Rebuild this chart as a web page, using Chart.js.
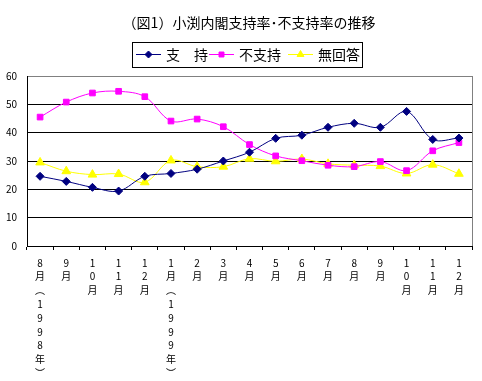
<!DOCTYPE html>
<html><head><meta charset="utf-8">
<script src="https://cdn.jsdelivr.net/npm/chart.js@4/dist/chart.umd.min.js"></script>
<style>html,body{margin:0;padding:0;background:#fff;}canvas{display:block;}</style>
</head><body>
<canvas id="c" width="482" height="381"></canvas>
<script>
const titleText = '（図1）小渕内閣支持率･不支持率の推移';
const categories = [
  ['8','月','︵','1','9','9','8','年','︶'],
  ['9','月'],
  ['1','0','月'],
  ['1','1','月'],
  ['1','2','月'],
  ['1','月','︵','1','9','9','9','年','︶'],
  ['2','月'],['3','月'],['4','月'],['5','月'],['6','月'],['7','月'],['8','月'],['9','月'],
  ['1','0','月'],['1','1','月'],['1','2','月']
];
const seriesNames = ['支　持', '不支持', '無回答'];
const support    = [24.6, 22.8, 20.7, 19.4, 24.6, 25.6, 27.1, 30.0, 33.1, 38.0, 39.1, 41.9, 43.3, 41.9, 47.5, 37.6, 38.1];
const nonSupport = [45.5, 50.8, 54.0, 54.6, 52.7, 44.1, 44.8, 42.1, 35.8, 31.8, 30.1, 28.5, 28.0, 29.8, 26.6, 33.6, 36.5];
const noAnswer   = [29.5, 26.4, 25.2, 25.4, 22.5, 30.2, 28.0, 28.0, 30.8, 29.9, 30.7, 29.0, 28.5, 28.2, 25.6, 28.7, 25.5];
const yTicks = [0, 10, 20, 30, 40, 50, 60];

const FONT = '"Noto Sans CJK JP", "Noto Sans", sans-serif';
const colors = ['#000080', '#FF00FF', '#FFFF00'];
const pstyles = ['rectRot', 'rect', 'triangle'];
const pradius = [4, 4, 5];

const decor = {
  id: 'decor',
  beforeDatasetsDraw(chart) {
    const ctx = chart.ctx, a = chart.chartArea;
    ctx.save();
    ctx.strokeStyle = '#808080'; ctx.lineWidth = 1;
    ctx.beginPath();
    ctx.moveTo(Math.round(a.right) + 0.5, a.top);
    ctx.lineTo(Math.round(a.right) + 0.5, a.bottom);
    ctx.stroke();
    ctx.restore();
  },
  afterDraw(chart) {
    const ctx = chart.ctx;
    ctx.save();
    ctx.fillStyle = '#000';
    ctx.font = '14px ' + FONT;
    ctx.textAlign = 'center'; ctx.textBaseline = 'middle';
    ctx.fillText(titleText, 249, 23);
    ctx.strokeStyle = '#000'; ctx.lineWidth = 1;
    ctx.strokeRect(132.5, 42.5, 230, 25);
    const lx = [136, 209, 288];
    const ly = 54;
    ctx.textAlign = 'left';
    for (let i = 0; i < 3; i++) {
      ctx.strokeStyle = colors[i]; ctx.fillStyle = colors[i]; ctx.lineWidth = 1;
      ctx.beginPath(); ctx.moveTo(lx[i], ly + 0.5); ctx.lineTo(lx[i] + 25, ly + 0.5); ctx.stroke();
      Chart.helpers.drawPoint(ctx, {pointStyle: pstyles[i], radius: i === 2 ? 4 : 3.5, borderWidth: 1}, lx[i] + 12.5, ly + 0.5);
      ctx.fillStyle = '#000';
      ctx.font = '14px ' + FONT;
      ctx.fillText(seriesNames[i], lx[i] + 30, ly + 1);
    }
    ctx.restore();
  }
};

function mk(label, data, i) {
  return {
    label, data,
    borderColor: colors[i], backgroundColor: colors[i],
    pointBackgroundColor: colors[i], pointBorderColor: colors[i],
    pointStyle: pstyles[i], pointRadius: pradius[i], pointBorderWidth: 1,
    borderWidth: 1, tension: 0.35, fill: false
  };
}

new Chart(document.getElementById('c'), {
  type: 'line',
  data: {
    labels: categories,
    datasets: [mk(seriesNames[0], support, 0), mk(seriesNames[1], nonSupport, 1), mk(seriesNames[2], noAnswer, 2)]
  },
  options: {
    responsive: false, animation: false, devicePixelRatio: 1,
    layout: { padding: { top: 76, right: 10, left: 0, bottom: 0 } },
    plugins: { legend: { display: false }, title: { display: false }, tooltip: { enabled: false } },
    scales: {
      x: {
        offset: true,
        grid: { offset: true, drawOnChartArea: false, drawTicks: true, tickLength: 4, color: '#000' },
        border: { color: '#000', width: 1 },
        ticks: { color: '#000', font: { family: FONT, size: 10, lineHeight: 1.38 }, maxRotation: 0, autoSkip: false, padding: 6 },
        afterFit(s) { s.height = 135; }
      },
      y: {
        min: 0, max: 60,
        afterBuildTicks(s) { s.ticks = yTicks.map(v => ({ value: v })); },
        grid: { drawTicks: false, color: (c) => c.tick && c.tick.value === 60 ? '#808080' : '#000' },
        border: { color: '#000', width: 1 },
        ticks: { color: '#000', font: { family: FONT, size: 10 }, padding: 10 },
        afterFit(s) { s.width = 27; }
      }
    }
  },
  plugins: [decor]
});
</script>
</body></html>
